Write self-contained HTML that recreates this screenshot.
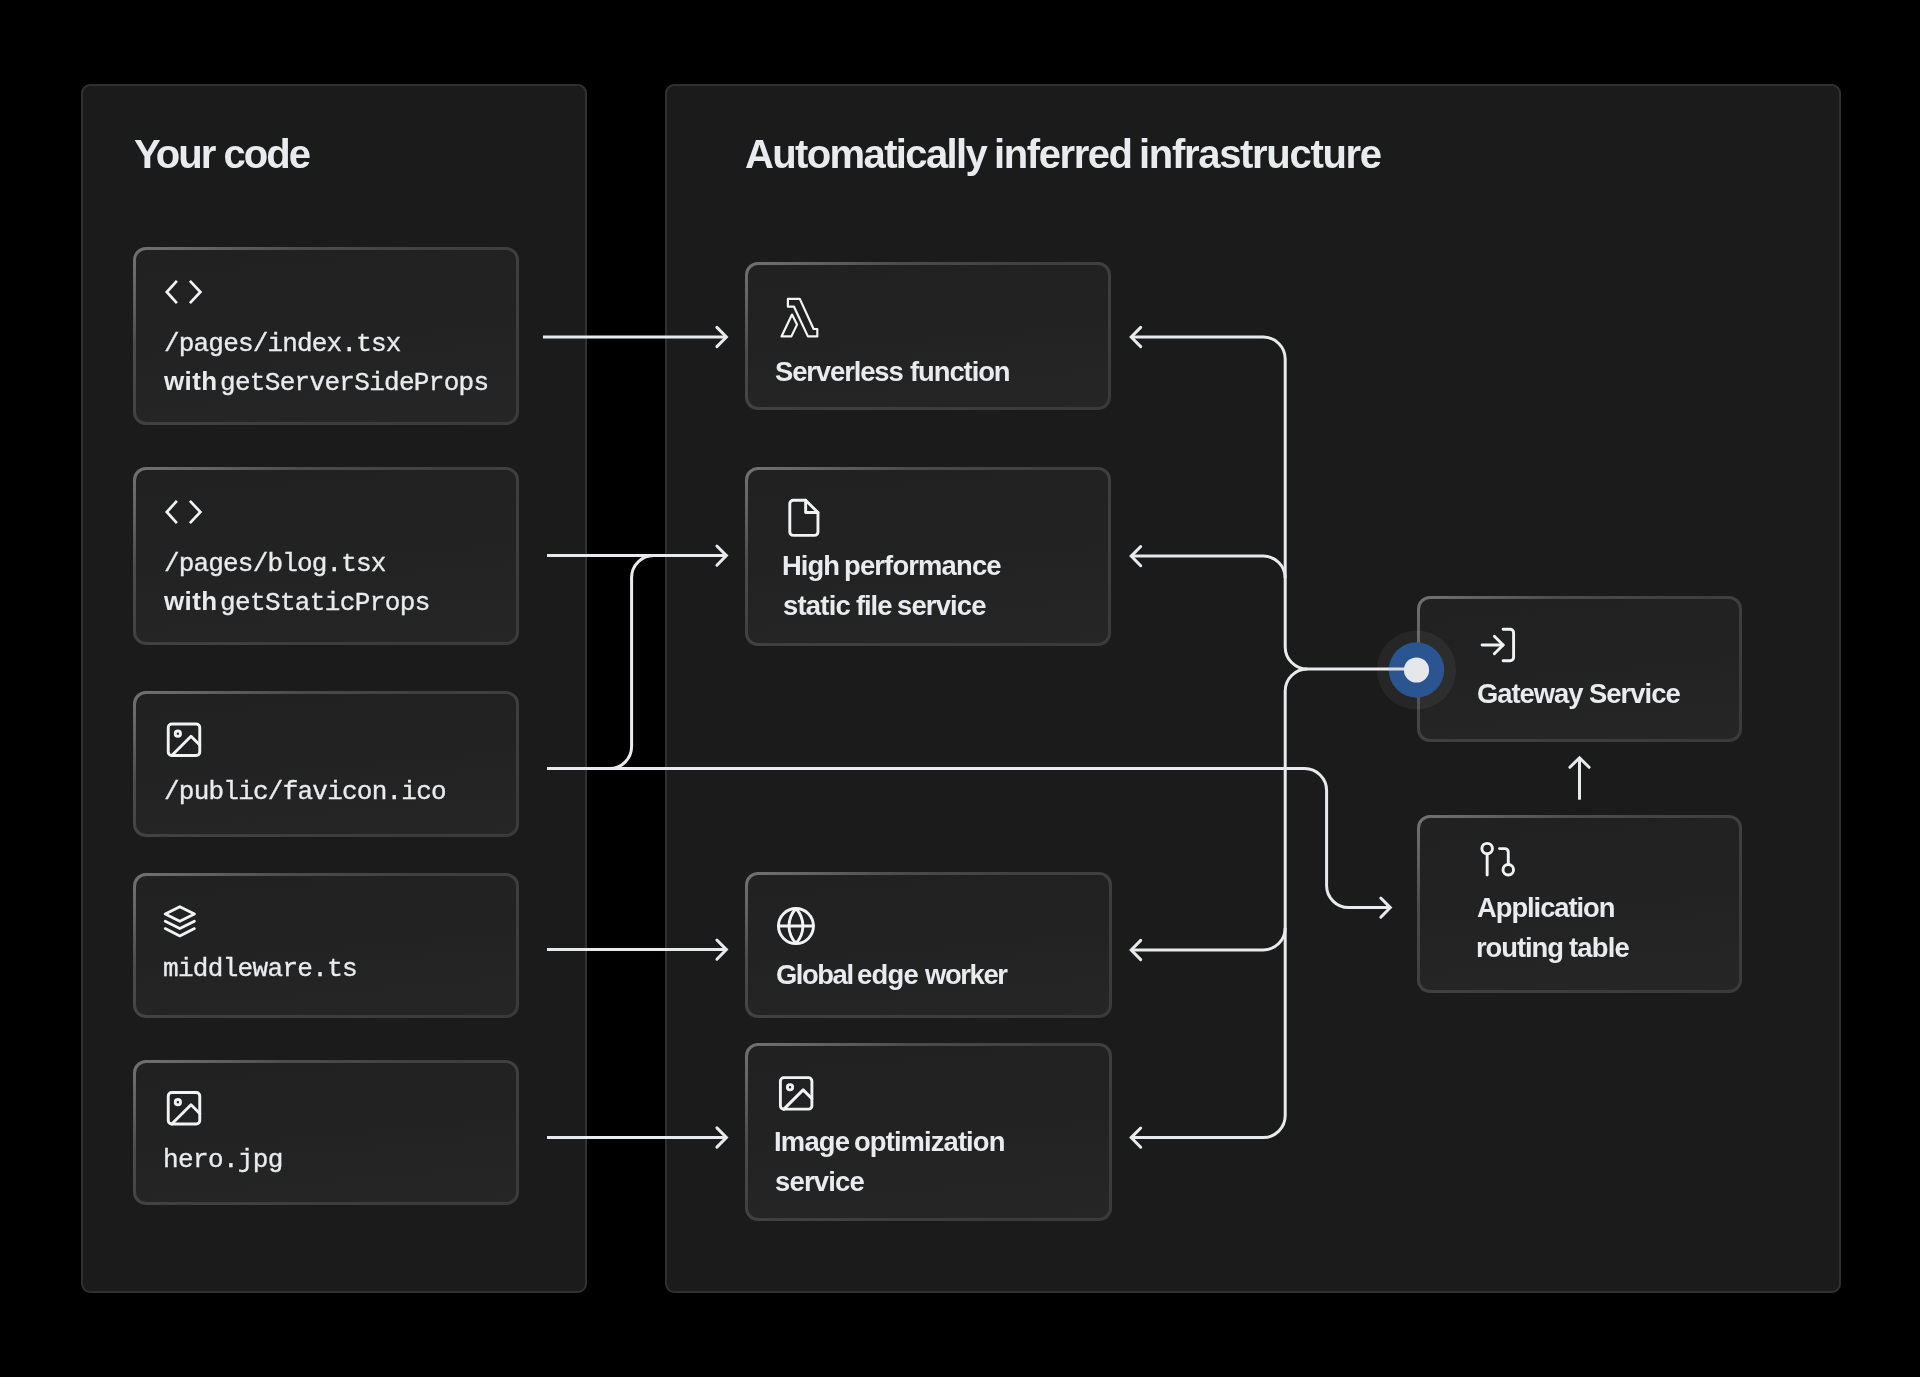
<!DOCTYPE html>
<html lang="en">
<head>
<meta charset="utf-8">
<title>Automatically inferred infrastructure</title>
<style>
  html, body { margin: 0; padding: 0; background: #000; }
  body { width: 1920px; height: 1377px; position: relative; overflow: hidden;
         font-family: "Liberation Sans", sans-serif; color: #eceef0; }
  .panel { position: absolute; box-sizing: border-box; background: #1b1b1b;
           border: 2px solid #303030; border-radius: 9px; }
  .card { position: absolute; box-sizing: border-box; border-radius: 13px;
          background: linear-gradient(150deg, #727272 0%, #626262 12%, #4c4c4c 25%, #404040 45%, #3a3a3a 100%); }
  .card::before { content: ""; position: absolute; left: 3px; top: 3px; right: 3px; bottom: 3px;
          border-radius: 10px; background: linear-gradient(175deg, #212121 0%, #222222 45%, #262626 100%); }
  .t { position: absolute; white-space: nowrap; line-height: 1; color: #e9ebee; will-change: transform; transform: translateZ(0); }
  .sb { font-family: "Liberation Sans", sans-serif; font-weight: bold; }
  .mono { font-family: "Liberation Mono", monospace; font-weight: normal; -webkit-text-stroke: 0.35px #e9ebee; }
  svg { position: absolute; left: 0; top: 0; }
</style>
</head>
<body>
<div class="panel" style="left:81px; top:84px; width:506px; height:1209px;"></div>
<div class="panel" style="left:665px; top:84px; width:1176px; height:1209px;"></div>
<div class="card" style="left:133px; top:247px; width:386px; height:178px;"></div>
<div class="card" style="left:133px; top:467px; width:386px; height:178px;"></div>
<div class="card" style="left:133px; top:691px; width:386px; height:146px;"></div>
<div class="card" style="left:133px; top:873px; width:386px; height:145px;"></div>
<div class="card" style="left:133px; top:1060px; width:386px; height:145px;"></div>
<div class="card" style="left:745px; top:262px; width:366px; height:148px;"></div>
<div class="card" style="left:745px; top:467px; width:366px; height:179px;"></div>
<div class="card" style="left:745px; top:872px; width:367px; height:146px;"></div>
<div class="card" style="left:745px; top:1043px; width:367px; height:178px;"></div>
<div class="card" style="left:1417px; top:596px; width:325px; height:146px;"></div>
<div class="card" style="left:1417px; top:815px; width:325px; height:178px;"></div>
<div class="t sb" style="left:133.9px; top:133.7px; font-size:40px; letter-spacing:-1.94px;">Your code</div>
<div class="t sb" style="left:745.2px; top:133.6px; font-size:40px; letter-spacing:-1.62px;">Automatically</div>
<div class="t sb" style="left:994.1px; top:133.6px; font-size:40px; letter-spacing:-1.41px;">inferred</div>
<div class="t sb" style="left:1139.3px; top:133.6px; font-size:40px; letter-spacing:-1.31px;">infrastructure</div>
<div class="t mono" style="left:163.6px; top:331.4px; font-size:26px; letter-spacing:-0.82px;">/pages/index.tsx</div>
<div class="t sb" style="left:163.7px; top:368.2px; font-size:26px; letter-spacing:0.37px;">with</div>
<div class="t mono" style="left:219.5px; top:370.2px; font-size:26px; letter-spacing:-0.69px;">getServerSideProps</div>
<div class="t mono" style="left:163.6px; top:551.0px; font-size:26px; letter-spacing:-0.83px;">/pages/blog.tsx</div>
<div class="t sb" style="left:163.7px; top:588.2px; font-size:26px; letter-spacing:0.37px;">with</div>
<div class="t mono" style="left:220.1px; top:590.2px; font-size:26px; letter-spacing:-0.63px;">getStaticProps</div>
<div class="t mono" style="left:163.6px; top:778.7px; font-size:26px; letter-spacing:-0.77px;">/public/favicon.ico</div>
<div class="t mono" style="left:162.7px; top:956.1px; font-size:26px; letter-spacing:-0.68px;">middleware.ts</div>
<div class="t mono" style="left:162.5px; top:1146.5px; font-size:26px; letter-spacing:-0.63px;">hero.jpg</div>
<div class="t sb" style="left:775.4px; top:357.6px; font-size:27.4px; letter-spacing:-1.1px;">Serverless</div>
<div class="t sb" style="left:910.1px; top:357.6px; font-size:27.4px; letter-spacing:-1.06px;">function</div>
<div class="t sb" style="left:781.7px; top:552.4px; font-size:27.4px; letter-spacing:-0.93px;">High</div>
<div class="t sb" style="left:843.9px; top:552.4px; font-size:27.4px; letter-spacing:-0.84px;">performance</div>
<div class="t sb" style="left:782.7px; top:592.2px; font-size:27.4px; letter-spacing:-0.74px;">static</div>
<div class="t sb" style="left:856.1px; top:592.2px; font-size:27.4px; letter-spacing:-1.07px;">file</div>
<div class="t sb" style="left:897.4px; top:592.2px; font-size:27.4px; letter-spacing:-0.83px;">service</div>
<div class="t sb" style="left:776.0px; top:961.0px; font-size:27.4px; letter-spacing:-1.44px;">Global</div>
<div class="t sb" style="left:857.3px; top:961.0px; font-size:27.4px; letter-spacing:-0.73px;">edge</div>
<div class="t sb" style="left:924.7px; top:961.0px; font-size:27.4px; letter-spacing:-1.38px;">worker</div>
<div class="t sb" style="left:774.4px; top:1128.3px; font-size:27.4px; letter-spacing:-0.78px;">Image</div>
<div class="t sb" style="left:854.1px; top:1128.3px; font-size:27.4px; letter-spacing:-0.9px;">optimization</div>
<div class="t sb" style="left:774.9px; top:1168.1px; font-size:27.4px; letter-spacing:-0.78px;">service</div>
<div class="t sb" style="left:1477.2px; top:679.5px; font-size:27.4px; letter-spacing:-1.03px;">Gateway</div>
<div class="t sb" style="left:1589.2px; top:679.5px; font-size:27.4px; letter-spacing:-0.95px;">Service</div>
<div class="t sb" style="left:1476.5px; top:894.1px; font-size:27.4px; letter-spacing:-1.06px;">Application</div>
<div class="t sb" style="left:1475.8px; top:933.9px; font-size:27.4px; letter-spacing:-1.05px;">routing</div>
<div class="t sb" style="left:1569.1px; top:933.9px; font-size:27.4px; letter-spacing:-0.8px;">table</div>
<svg width="1920" height="1377" viewBox="0 0 1920 1377" fill="none">
  <circle cx="1416.5" cy="670" r="39.6" fill="#ffffff" fill-opacity="0.05"/>
  <g stroke="#e8eaed" stroke-width="3" fill="none" stroke-linecap="butt" stroke-linejoin="round">
        <path d="M543 337.0 H726.5"/>
    <path d="M547 555.6 H726.5"/>
    <path d="M547 949.6 H726.5"/>
    <path d="M547 1137.5 H726.5"/>
    <path d="M547 768.6 H609.6 A22 22 0 0 0 631.6 746.6 V577.6 A22 22 0 0 1 653.6 555.6"/>
    <path d="M609.6 768.6 H1304.6 A22 22 0 0 1 1326.6 790.6 V885.6 A22 22 0 0 0 1348.6 907.6 H1390.5"/>
    <path d="M1392 669.0 H1307.2 A22 22 0 0 1 1285.2 647.0 V359.0 A22 22 0 0 0 1263.2 337.0 H1131"/>
    <path d="M1285.2 578.1 A22 22 0 0 0 1263.2 556.1 H1131"/>
    <path d="M1307.2 669.0 A22 22 0 0 0 1285.2 691.0 V1115.6 A22 22 0 0 1 1263.2 1137.6 H1131"/>
    <path d="M1285.2 928.0 A22 22 0 0 1 1263.2 950.0 H1131"/>
    <path d="M1579.5 799.7 V758"/>
  </g>
  <g stroke="#e8eaed" stroke-width="3" fill="none" stroke-linecap="round" stroke-linejoin="miter">
        <path d="M716.9 327.4 L726.4 337.0 L716.9 346.6"/>
    <path d="M716.9 546.0 L726.4 555.6 L716.9 565.2"/>
    <path d="M716.9 940.0 L726.4 949.6 L716.9 959.2"/>
    <path d="M716.9 1127.9 L726.4 1137.5 L716.9 1147.1"/>
    <path d="M1380.8 898.0 L1390.3 907.6 L1380.8 917.2"/>
    <path d="M1140.7 327.4 L1131.2 337.0 L1140.7 346.6"/>
    <path d="M1140.7 546.5 L1131.2 556.1 L1140.7 565.7"/>
    <path d="M1140.7 940.4 L1131.2 950.0 L1140.7 959.6"/>
    <path d="M1140.7 1128.0 L1131.2 1137.6 L1140.7 1147.1999999999998"/>
    <path d="M1569.9 767.3 L1579.5 757.8 L1589.1 767.3"/>
  </g>
  <circle cx="1416.5" cy="670" r="27.7" fill="#2a5590"/>
  <path d="M1388.5 669.0 H1406" stroke="#d9dbde" stroke-width="3"/>
  <circle cx="1416.5" cy="670" r="12.6" fill="#e5e7eb"/>
    <g stroke="#f2f3f5" stroke-width="2.7" fill="none" stroke-linecap="butt" stroke-linejoin="miter"><path d="M176.9 280.8 L166.8 292.0 L176.9 303.2"/><path d="M189.9 280.8 L200.4 292.0 L189.9 303.2"/></g>
  <g stroke="#f2f3f5" stroke-width="2.7" fill="none" stroke-linecap="butt" stroke-linejoin="miter"><path d="M176.9 500.8 L166.8 512.0 L176.9 523.2"/><path d="M189.9 500.8 L200.4 512.0 L189.9 523.2"/></g>
  <g transform="translate(163.0 718.8) scale(1.75)" stroke="#f2f3f5" stroke-width="1.657142857142857" fill="none" stroke-linecap="round" stroke-linejoin="round"><rect x="3" y="3" width="18" height="18" rx="2" ry="2"/><circle cx="8.5" cy="8.5" r="1.5"/><polyline points="21 15 16 10 5 21"/></g>
  <g transform="translate(162.3 903.8) scale(1.46)" stroke="#f2f3f5" stroke-width="1.917808219178082" fill="none" stroke-linecap="round" stroke-linejoin="round"><polygon points="12 2 2 7 12 12 22 7 12 2"/><polyline points="2 17 12 22 22 17"/><polyline points="2 12 12 17 22 12"/></g>
  <g transform="translate(163.0 1087.3) scale(1.75)" stroke="#f2f3f5" stroke-width="1.657142857142857" fill="none" stroke-linecap="round" stroke-linejoin="round"><rect x="3" y="3" width="18" height="18" rx="2" ry="2"/><circle cx="8.5" cy="8.5" r="1.5"/><polyline points="21 15 16 10 5 21"/></g>
  <g transform="translate(782.76 496.68) scale(1.76)" stroke="#f2f3f5" stroke-width="1.6477272727272727" fill="none" stroke-linecap="round" stroke-linejoin="round"><path d="M13 2H6a2 2 0 0 0-2 2v16a2 2 0 0 0 2 2h12a2 2 0 0 0 2-2V9z"/><polyline points="13 2 13 9 20 9"/></g>
  <g transform="translate(774.95 905.05) scale(1.75)" stroke="#f2f3f5" stroke-width="1.657142857142857" fill="none" stroke-linecap="round" stroke-linejoin="round"><circle cx="12" cy="12" r="10"/><line x1="2" y1="12" x2="22" y2="12"/><path d="M12 2a15.3 15.3 0 0 1 4 10 15.3 15.3 0 0 1-4 10 15.3 15.3 0 0 1-4-10 15.3 15.3 0 0 1 4-10z"/></g>
  <g transform="translate(775.15 1072.4) scale(1.75)" stroke="#f2f3f5" stroke-width="1.657142857142857" fill="none" stroke-linecap="round" stroke-linejoin="round"><rect x="3" y="3" width="18" height="18" rx="2" ry="2"/><circle cx="8.5" cy="8.5" r="1.5"/><polyline points="21 15 16 10 5 21"/></g>
  <g transform="translate(1476.85 624.05) scale(1.75)" stroke="#f2f3f5" stroke-width="1.657142857142857" fill="none" stroke-linecap="round" stroke-linejoin="round"><path d="M15 3h4a2 2 0 0 1 2 2v14a2 2 0 0 1-2 2h-4"/><polyline points="10 17 15 12 10 7"/><line x1="15" y1="12" x2="3" y2="12"/></g>
  <g transform="translate(1476.6 838.05) scale(1.76)" stroke="#f2f3f5" stroke-width="1.6477272727272727" fill="none" stroke-linecap="round" stroke-linejoin="round"><circle cx="18" cy="18" r="3"/><circle cx="6" cy="6" r="3"/><path d="M13 6h3a2 2 0 0 1 2 2v7"/><line x1="6" y1="9" x2="6" y2="21"/></g>
  <g stroke="#f2f3f5" stroke-width="2.2" fill="none" stroke-linejoin="round">
<path d="M787.9 298.9 H799.8 L813.6 329 H817.3 V336.4 H807.9 L794 306.7 H787.9 Z"/>
<path d="M792 314.6 L797 324.6 L791.4 336.4 H781.5 Z"/></g>
</svg>
</body>
</html>
